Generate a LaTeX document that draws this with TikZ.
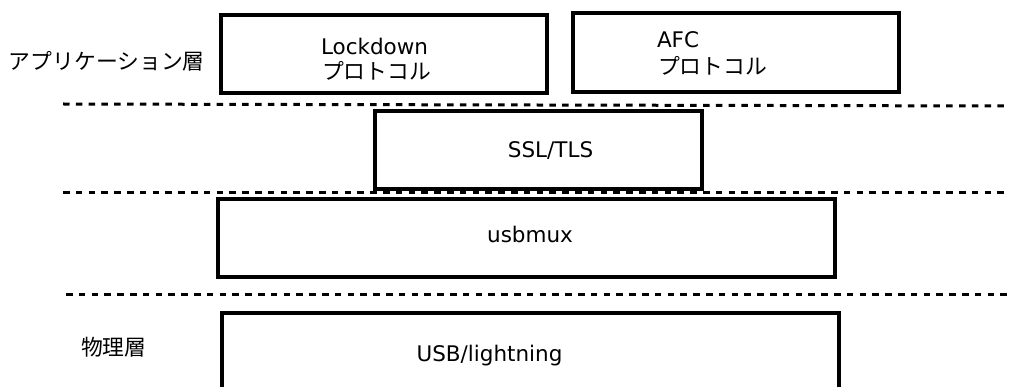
\documentclass[tikz,border=0pt]{standalone}
\usepackage{fontspec}
\setmainfont{DejaVu Sans}
\newfontfamily\jp{Noto Sans CJK JP}
\begin{document}
\begin{tikzpicture}[x=1pt,y=-1pt,
  box/.style={draw=black, line width=3.3pt, inner sep=0pt, outer sep=0pt},
  lbl/.style={inner sep=0pt, outer sep=0pt, text=black, font=\fontsize{21.5}{27}\selectfont},
  jlbl/.style={inner sep=0pt, outer sep=0pt, text=black, font=\fontsize{21.8}{27}\selectfont\jp},
  sepline/.style={draw=black, line width=3pt, dash pattern=on 6.5pt off 6.3pt}]
\clip (0,0) rectangle (1016,387);
\fill[white] (0,0) rectangle (1016,387);
% layer separators
\coordinate (d1a) at (63,104);  \coordinate (d1b) at (1010,106);
\coordinate (d2a) at (63,193);  \coordinate (d2b) at (1010,193);
\coordinate (d3a) at (66,294);  \coordinate (d3b) at (1013,294);
\draw[sepline] (d1a) -- (d1b);
\draw[sepline] (d2a) -- (d2b);
\draw[sepline] (d3a) -- (d3b);
% boxes
\node[box, minimum width=326pt, minimum height=78pt] (lock) at (384,54) {};
\node[box, minimum width=326pt, minimum height=79pt] (afc) at (736,52.5) {};
\node[box, minimum width=327pt, minimum height=78pt] (ssl) at (538.5,150) {};
\node[box, minimum width=617pt, minimum height=78pt] (mux) at (526.5,238) {};
\node[box, minimum width=617pt, minimum height=150pt] (usb) at (530.5,388) {};
% texts
\node[lbl, anchor=base west] (lockt1) at (321,55) {Lockdown};
\node[jlbl, anchor=base west] (lockt2) at (322,80) {プロトコル};
\node[lbl, anchor=base west] (afct1) at (657,48) {AFC};
\node[jlbl, anchor=base west] (afct2) at (658,75) {プロトコル};
\node[lbl, anchor=base] (sslt) at (550.5,158) {SSL/TLS};
\node[lbl, anchor=base] (muxt) at (530,243) {usbmux};
\node[lbl, anchor=base] (usbt) at (489.5,361) {USB/lightning};
\node[jlbl, anchor=base west] (app) at (9,70) {アプリケーション層};
\node[jlbl, anchor=base west] (phys) at (81,355) {物理層};
\end{tikzpicture}
\end{document}
